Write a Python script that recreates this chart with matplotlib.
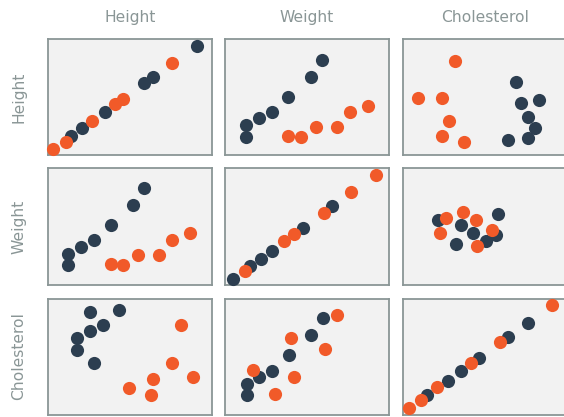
import matplotlib
matplotlib.use('Agg')
import matplotlib.pyplot as plt

# variable names (columns and rows)
variables = ['Height', 'Weight', 'Cholesterol']

# point positions, 0-100 scale inside the panel
# keys are (row, col)
dark_x = {
    (0, 0): [14.2, 20.9, 34.9, 58.7, 64.2, 91.0],
    (0, 1): [12.8, 12.8, 20.9, 28.7, 38.6, 52.3, 59.3],
    (0, 2): [68.7, 71.8, 82.7, 76.0, 80.5, 76.4, 63.8],
    (1, 0): [12.6, 12.6, 20.3, 28.4, 38.4, 52.0, 58.9],
    (1, 1): [5.1, 15.4, 22.0, 28.5, 47.4, 65.1],
    (1, 2): [21.5, 35.6, 42.9, 32.5, 50.4, 56.7, 58.1],
    (2, 0): [25.8, 43.7, 33.7, 25.8, 18.0, 18.0, 28.4],
    (2, 1): [13.2, 13.2, 20.9, 28.7, 38.8, 52.4, 59.6],
    (2, 2): [14.5, 27.3, 35.4, 46.3, 64.2, 76.2],
}
dark_y = {
    (0, 0): [16.4, 23.3, 37.1, 62.1, 67.2, 94.0],
    (0, 1): [25.9, 15.8, 31.6, 37.1, 50.0, 67.5, 82.2],
    (0, 2): [63.2, 44.6, 47.4, 33.0, 23.0, 14.4, 12.9],
    (1, 0): [26.7, 16.4, 32.5, 38.2, 51.4, 68.4, 83.3],
    (1, 1): [4.9, 15.8, 22.4, 29.1, 48.3, 67.5],
    (1, 2): [55.8, 50.9, 44.0, 35.3, 37.6, 42.5, 61.2],
    (2, 0): [88.2, 90.5, 77.0, 71.6, 66.1, 55.8, 44.6],
    (2, 1): [16.4, 26.7, 32.2, 37.9, 51.1, 68.4, 83.6],
    (2, 2): [16.7, 29.3, 37.4, 48.5, 67.2, 79.3],
}
orange_x = {
    (0, 0): [3.2, 11.2, 27.0, 41.0, 45.9, 75.8],
    (0, 1): [38.6, 46.2, 55.5, 68.1, 76.0, 87.0],
    (0, 2): [31.7, 9.0, 24.0, 28.0, 24.0, 37.4],
    (1, 0): [38.4, 45.9, 55.1, 67.9, 75.8, 86.6],
    (1, 1): [12.2, 36.2, 42.3, 60.4, 77.0, 92.1],
    (1, 2): [26.0, 36.6, 44.7, 22.7, 54.5, 45.1],
    (2, 0): [81.3, 75.6, 88.4, 64.4, 49.8, 63.0],
    (2, 1): [16.9, 30.5, 42.3, 40.4, 61.2, 68.3],
    (2, 2): [3.8, 11.2, 20.7, 41.5, 59.3, 91.0],
}
orange_y = {
    (0, 0): [5.2, 11.2, 29.3, 44.0, 48.3, 79.3],
    (0, 1): [16.4, 15.8, 24.4, 24.4, 37.1, 42.5],
    (0, 2): [80.8, 48.9, 48.9, 29.3, 16.4, 11.2],
    (1, 0): [17.8, 16.6, 25.6, 25.6, 38.2, 44.0],
    (1, 1): [11.5, 37.3, 43.4, 61.8, 79.6, 94.0],
    (1, 2): [57.5, 62.3, 56.0, 44.0, 47.4, 33.6],
    (2, 0): [77.3, 44.6, 32.5, 30.8, 22.7, 17.0],
    (2, 1): [38.2, 17.8, 32.5, 65.8, 56.6, 86.0],
    (2, 2): [5.7, 12.7, 23.3, 44.2, 62.3, 94.5],
}

dark = '#2c3e50'
orange = '#f15a29'
grey = '#8a9696'

plt.rcParams['font.family'] = ['DejaVu Sans']

W, H = 564, 417
fig = plt.figure(figsize=(W / 100, H / 100), dpi=100)

lefts = [47.7, 225, 403]
tops = [39, 168.5, 298.5]
pw, ph = 164, 116

for r in range(3):
    for c in range(3):
        ax = fig.add_axes([lefts[c] / W, 1 - (tops[r] + ph) / H, pw / W, ph / H])
        ax.set_facecolor('#f2f2f2')
        ax.scatter(dark_x[(r, c)], dark_y[(r, c)], s=90, color=dark,
                   linewidths=0, clip_on=False, zorder=3)
        ax.scatter(orange_x[(r, c)], orange_y[(r, c)], s=90, color=orange,
                   linewidths=0, clip_on=False, zorder=4)
        ax.set_xlim(0, 100)
        ax.set_ylim(0, 100)
        ax.set_xticks([])
        ax.set_yticks([])
        for sp in ax.spines.values():
            sp.set_color(grey)
            sp.set_linewidth(1.3)

# column titles and row labels
for i, name in enumerate(variables):
    fig.text((lefts[i] + pw / 2) / W, 1 - 22.3 / H, name, ha='center', va='baseline',
             fontsize=11.2, color=grey)
    fig.text(18.5 / W, 1 - (tops[i] + ph / 2) / H, name, ha='center', va='center',
             rotation=90, fontsize=11.2, color=grey)

fig.savefig('out.png', dpi=100)
